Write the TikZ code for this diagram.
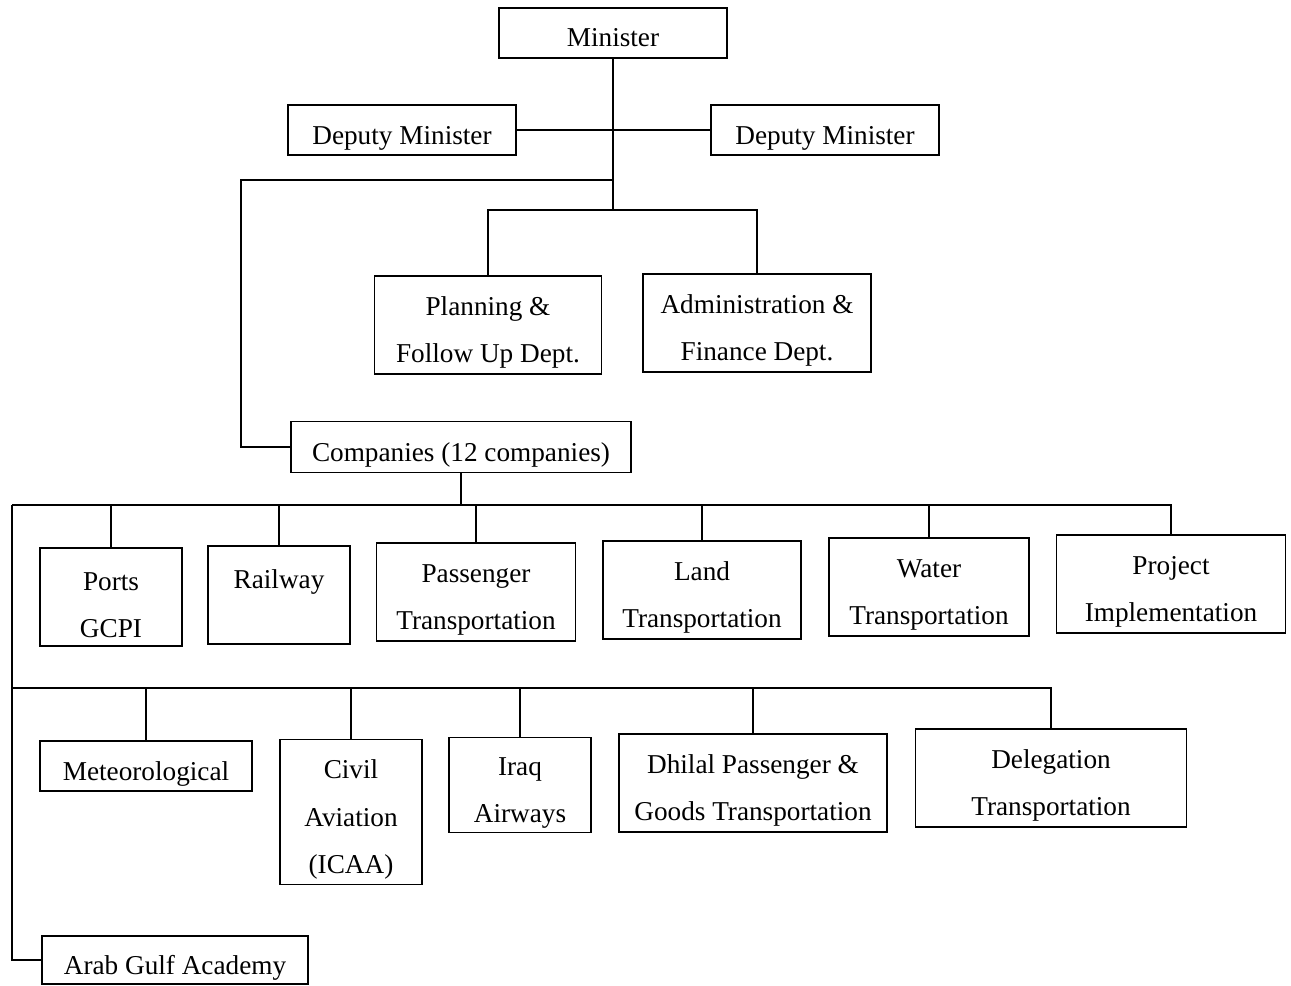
\documentclass[tikz,border=0pt]{standalone}
\usepackage{fontspec}
\setmainfont{Liberation Serif}
\usepackage{tikz}
\usetikzlibrary{calc, positioning}
\newcommand{\lift}{\rule{0pt}{19.5pt}}

\begin{document}
\begin{tikzpicture}[
  x=0.02cm, y=-0.02cm, line width=0.9pt,
  font=\fontsize{15.5}{27}\selectfont,
  box/.style={draw, inner sep=0pt, align=center},
  wide/.style={box, minimum width=4.55cm, minimum height=1.0cm},
  tall/.style={box, minimum height=1.95cm}]
  \useasboundingbox (0,0) rectangle (1291,985);
  % Ministry top
  \node[wide] (min)  at (613,33)  {\rule{0pt}{16pt}Minister};
  \node[wide] (dep1) at (402,130) {\lift Deputy Minister};
  \node[wide] (dep2) at (825,130) {\lift Deputy Minister};
  \node[tall, minimum width=4.54cm] (plan)  at (488,325) {\lift Planning \&\\Follow Up Dept.};
  \node[tall, minimum width=4.56cm] (admin) at (757,323) {\lift Administration \&\\Finance Dept.};
  \node[box, minimum width=6.8cm, minimum height=1.02cm] (comp) at (461,447) {\lift Companies (12 companies)};
  % Companies, first row
  \node[tall, minimum width=2.84cm] (ports) at (111,597)  {\lift Ports\\GCPI};
  \node[tall, minimum width=2.84cm] (rail)  at (279,595)  {\lift Railway\\ \mbox{}};
  \node[tall, minimum width=3.98cm] (pass)  at (476,592)  {\lift Passenger\\Transportation};
  \node[tall, minimum width=3.96cm] (land)  at (702,590)  {\lift Land\\Transportation};
  \node[tall, minimum width=4.0cm]  (water) at (929,587)  {\lift Water\\Transportation};
  \node[tall, minimum width=4.58cm] (proj)  at (1171,584) {\lift Project\\Implementation};
  % Companies, second row
  \node[box, minimum width=4.24cm, minimum height=1.0cm] (meteo) at (146,766) {\lift Meteorological};
  \node[box, minimum width=2.84cm, minimum height=2.9cm] (civil) at (351,812) {\lift Civil\\Aviation\\(ICAA)};
  \node[tall, minimum width=2.84cm, minimum height=1.9cm] (iraq) at (520,785) {\lift Iraq\\Airways};
  \node[tall, minimum width=5.36cm] (dhilal) at (753,783)  {\lift Dhilal Passenger \&\\Goods Transportation};
  \node[tall, minimum width=5.42cm] (deleg)  at (1051,778) {\lift Delegation\\Transportation};
  \node[box, minimum width=5.32cm, minimum height=0.96cm] (gulf) at (175,960) {\lift Arab Gulf Academy};
  % Connectors, top
  \coordinate (fork)  at (613,210);
  \coordinate (cleft) at (241,180);
  \draw (min) -- (fork);
  \draw (dep1) -- (dep2);
  \draw (plan.north) |- (fork) -| (admin.north);
  \draw (min.south |- cleft) -- (cleft) |- (comp.west);
  % Connectors, companies
  \coordinate (bus1) at (12,505);
  \coordinate (bus2) at (12,688);
  \draw (comp) -- (comp.south |- bus1);
  \draw (bus1) -- (proj.north |- bus1) -- (proj.north);
  \foreach \n in {ports, rail, pass, land, water}
    \draw (\n.north) -- (\n.north |- bus1);
  \draw (bus1) |- (gulf.west);
  \draw (bus2) -- (deleg.north |- bus2) -- (deleg.north);
  \foreach \n in {meteo, civil, iraq, dhilal}
    \draw (\n.north) -- (\n.north |- bus2);
\end{tikzpicture}
\end{document}
